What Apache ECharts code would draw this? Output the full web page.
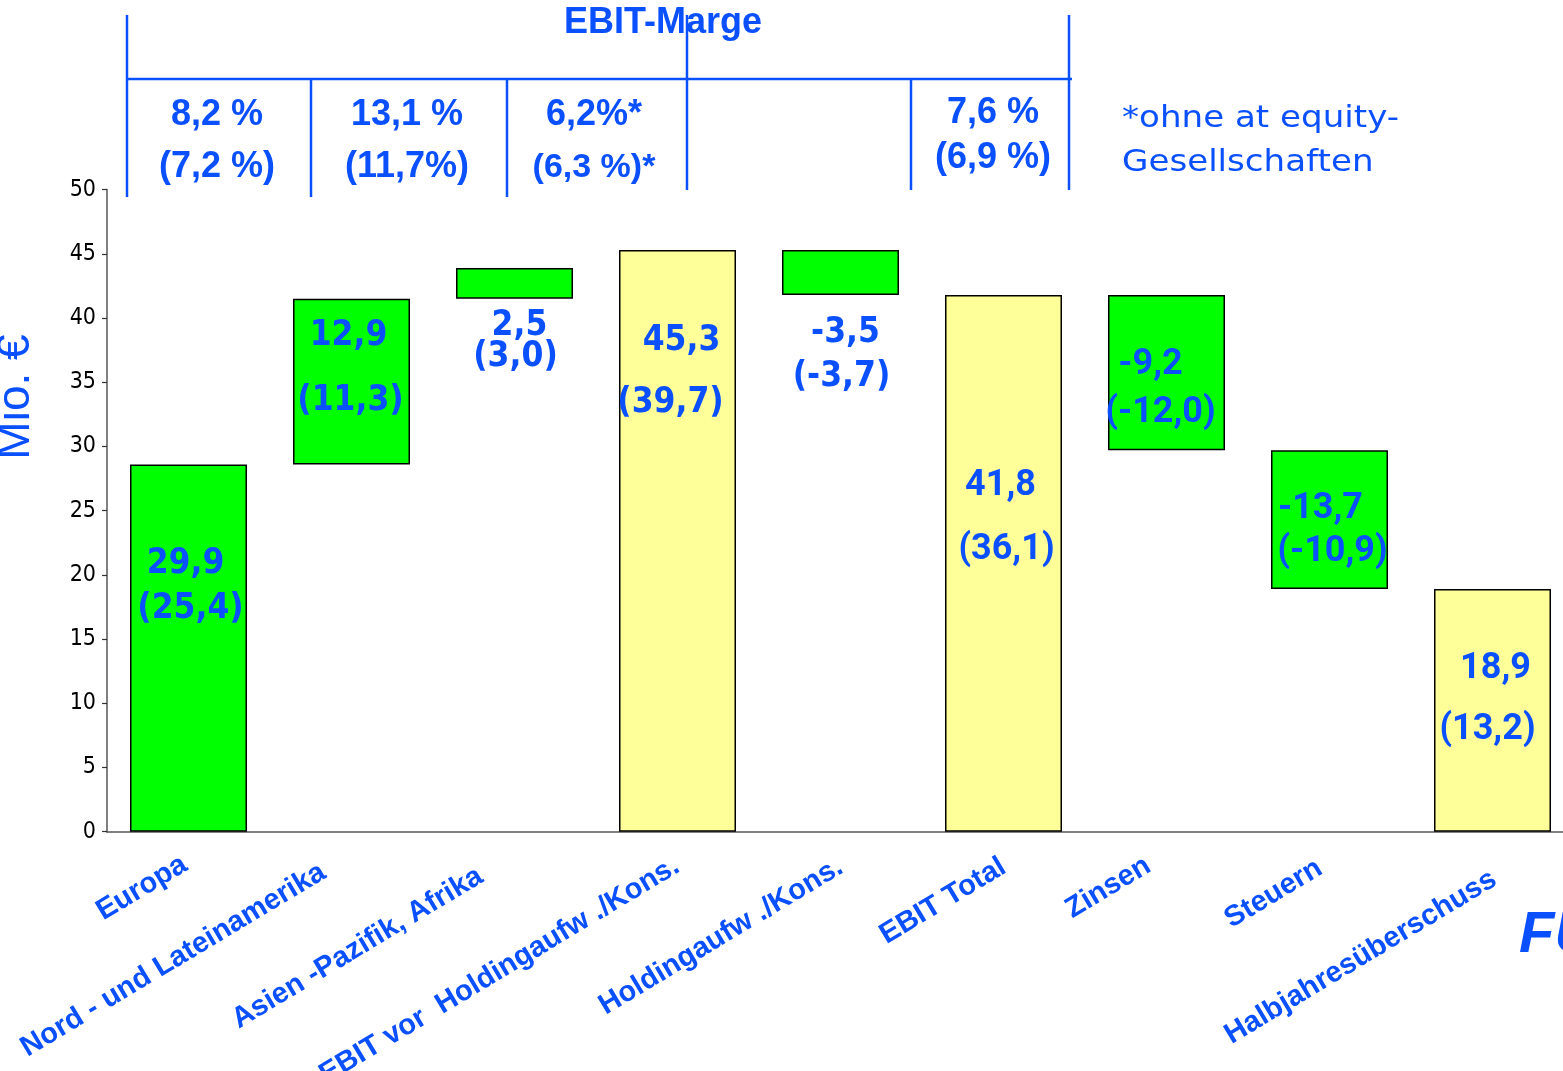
<!DOCTYPE html>
<html><head><meta charset="utf-8">
<script src="https://cdn.jsdelivr.net/npm/echarts/dist/echarts.min.js"></script>
<style>html,body{margin:0;padding:0;background:#fff;overflow:hidden}#c{width:1563px;height:1071px}</style>
</head><body><div id="c"></div>
<script>
// ---- data ----
const categories = ['Europa', 'Nord - und Lateinamerika', 'Asien -Pazifik, Afrika', 'EBIT vor  Holdingaufw ./Kons.', 'Holdingaufw ./Kons.', 'EBIT Total', 'Zinsen', 'Steuern', 'Halbjahresüberschuss'];
const barLow  = [0, 28.6, 41.5, 0, 41.8, 0, 29.7, 18.9, 0];
const barHigh = [28.6, 41.5, 43.9, 45.3, 45.3, 41.8, 41.8, 29.7, 18.9];
const barKind = ['delta', 'delta', 'delta', 'total', 'delta', 'total', 'delta', 'delta', 'total'];
const valueCurrent = ['29,9', '12,9', '2,5', '45,3', '-3,5', '41,8', '-9,2', '-13,7', '18,9'];
const valuePrior = ['(25,4)', '(11,3)', '(3,0)', '(39,7)', '(-3,7)', '(36,1)', '(-12,0)', '(-10,9)', '(13,2)'];
const marginTitle = 'EBIT-Marge';
const marginCurrent = ['8,2 %', '13,1 %', '6,2%*', '7,6 %'];
const marginPrior = ['(7,2 %)', '(11,7%)', '(6,3 %)*', '(6,9 %)'];
const footnote = ['*ohne at equity-', 'Gesellschaften'];
const yAxisTitle = 'Mio. €';

// ---- styling / layout ----
const BLUE = '#0a50ff';
const COLORS = { delta: '#00ff00', total: '#ffff99' };
const CONDENSED = '"DejaVu Sans Condensed", "Liberation Sans", sans-serif';
// label layout per bar: mid = px below bar top for the 2-line block centre, gap = line distance, d1/d2 = x shift of each line
const labelLayout = [
  { mid: 122, gap: 45, d1: -3, d2: 2, f: 'n' },
  { mid: 70, gap: 65, d1: -3, d2: -1, f: 'n' },
  { mid: 73, gap: 31, d1: 5, d2: 1, f: 'n' },
  { mid: 122, gap: 62, d1: 4, d2: -7, f: 'n' },
  { mid: 105, gap: 44, d1: 5, d2: 1, f: 'n' },
  { mid: 223, gap: 64, d1: -3, d2: 3, f: 'r' },
  { mid: 94, gap: 48, d1: -16, d2: -6, f: 'r' },
  { mid: 80, gap: 43, d1: -9, d2: 3, f: 'r' },
  { mid: 110, gap: 61, d1: 3, d2: -5, f: 'r' }
];
// per-category axis-label padding (rotated frame) to reproduce the staggered label placement
const xLabelPad = [
  [0, 2, 8, 0], [0, 27, 20, 0], [0, 34, 19, 0], [0, 0, 2, 0], [0, 0, 0, 0],
  [0, 0, 0, 0], [0, 15, 21, 0], [0, 9, 8, 0], [23, 5, 0, 0]
];
const FONTS = {
  n: { fontFamily: CONDENSED, fontSize: 35, fontWeight: 'bold' },
  r: { fontFamily: 'Roboto', fontSize: 36, fontWeight: 'bold' }
};
const XFONT = { color: BLUE, fontFamily: 'Liberation Sans', fontWeight: 'bold', fontSize: 29 };
function pad(d) { return d >= 0 ? [0, 0, 0, 2 * d] : [0, -2 * d, 0, 0]; }
function labelFor(i) {
  const L = labelLayout[i];
  const base = Object.assign({ color: BLUE }, FONTS[L.f]);
  return {
    show: true,
    position: ['50%', L.mid],
    align: 'center',
    verticalAlign: 'middle',
    formatter: '{a|' + valueCurrent[i] + '}\n{b|' + valuePrior[i] + '}',
    rich: {
      a: Object.assign({}, base, { lineHeight: L.gap, height: L.gap, padding: pad(L.d1) }),
      b: Object.assign({}, base, { lineHeight: L.gap, height: L.gap, padding: pad(L.d2) })
    }
  };
}

const baseData = barLow.slice();
const valueData = barHigh.map((h, i) => ({
  value: +(h - barLow[i]).toFixed(2),
  itemStyle: { color: COLORS[barKind[i]], borderColor: '#000', borderWidth: 1.5 },
  label: labelFor(i)
}));
const xRich = {};
xLabelPad.forEach((p, i) => { xRich['p' + i] = Object.assign({}, XFONT, { padding: p }); });

// top table decoration
const tableLines = [
  [127, 15, 127, 197], [311, 79, 311, 197], [507, 79, 507, 197],
  [687, 15, 687, 190], [911, 79, 911, 190], [1069, 15, 1069, 190],
  [127, 79, 1072, 79]
];
const marginPos = [[217, 115, 167, 36], [407, 115, 167, 36], [594, 115, 168, 34], [993, 113, 158, 36]];
const graphics = [];
tableLines.forEach(l => graphics.push({
  type: 'line', shape: { x1: l[0], y1: l[1], x2: l[2], y2: l[3] },
  style: { stroke: BLUE, lineWidth: 2.5 }, z: 10
}));
graphics.push({ type: 'text', x: 663, y: 23, z: 5, style: { text: marginTitle, fill: BLUE, font: 'bold 36px "Liberation Sans", Arial', textAlign: 'center', textVerticalAlign: 'middle' } });
marginCurrent.forEach((t, i) => {
  const p = marginPos[i];
  graphics.push({ type: 'text', x: p[0], y: p[1], z: 5, style: { text: t, fill: BLUE, font: 'bold 36px "Liberation Sans", Arial', textAlign: 'center', textVerticalAlign: 'middle' } });
  graphics.push({ type: 'text', x: p[0], y: p[2], z: 5, style: { text: marginPrior[i], fill: BLUE, font: 'bold ' + p[3] + 'px "Liberation Sans", Arial', textAlign: 'center', textVerticalAlign: 'middle' } });
});
footnote.forEach((t, i) => graphics.push({
  type: 'text', x: 1122, y: 119 + i * 44, scaleX: 1.1, z: 5,
  style: { text: t, fill: BLUE, font: '31px "DejaVu Sans", Verdana', textAlign: 'left', textVerticalAlign: 'middle' }
}));
graphics.push({ type: 'text', x: 16, y: 397, rotation: Math.PI / 2, z: 5,
  style: { text: yAxisTitle, fill: BLUE, font: '46px "Liberation Sans", Arial', textAlign: 'center', textVerticalAlign: 'middle' } });
graphics.push({ type: 'text', x: 1519, y: 936, z: 5,
  style: { text: 'FUCHS', fill: BLUE, font: 'italic bold 58px "Liberation Sans", Arial', textAlign: 'left', textVerticalAlign: 'middle' } });

const chart = echarts.init(document.getElementById('c'), null, { renderer: 'canvas' });
chart.setOption({
  animation: false,
  backgroundColor: '#fff',
  grid: { left: 107, top: 189.7, width: 1467, height: 642, containLabel: false, outerBoundsMode: 'none' },
  xAxis: {
    type: 'category',
    data: categories,
    axisLine: { show: true, lineStyle: { color: '#555', width: 1.5 } },
    axisTick: { show: false },
    axisLabel: Object.assign({
      interval: 0, rotate: 31, margin: 33,
      formatter: (v, i) => '{p' + i + '|' + v + '}',
      rich: xRich
    }, XFONT),
    splitLine: { show: false }
  },
  yAxis: {
    type: 'value', min: 0, max: 50, interval: 5,
    axisLine: { show: true, lineStyle: { color: '#808080', width: 2 } },
    axisTick: { show: true, length: 5, lineStyle: { color: '#333', width: 1.2 } },
    axisLabel: { color: '#000', fontFamily: CONDENSED, fontSize: 23, margin: 11 },
    splitLine: { show: false }
  },
  series: [
    { type: 'bar', stack: 'w', data: baseData, barWidth: 117, itemStyle: { color: 'transparent' }, silent: true },
    { type: 'bar', stack: 'w', data: valueData, barWidth: 117 }
  ],
  graphic: graphics
});
</script></body></html>
